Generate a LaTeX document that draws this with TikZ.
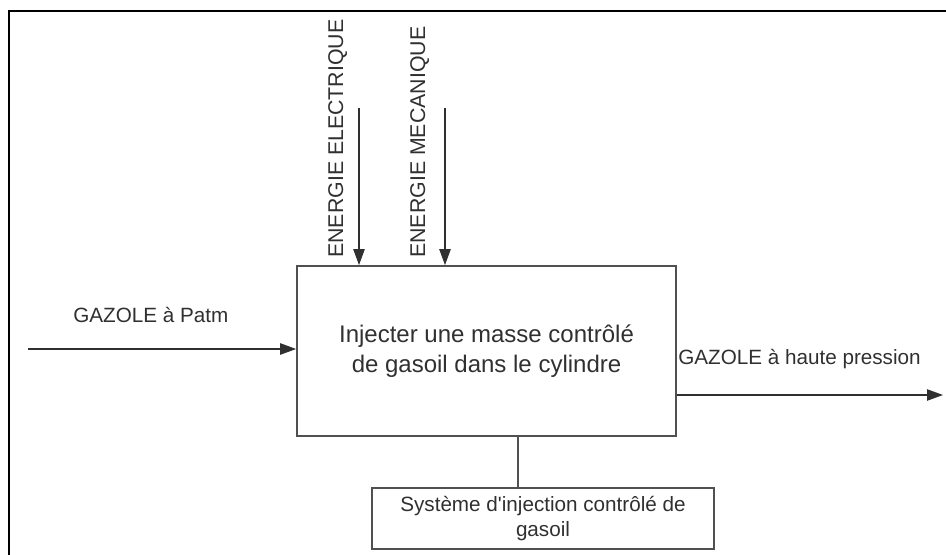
\documentclass[tikz,border=0pt]{standalone}
\usepackage{fontspec}
\newfontfamily\diagfont{Liberation Sans}
\usetikzlibrary{arrows.meta}
\definecolor{inkgray}{HTML}{303030}
\definecolor{boxgray}{HTML}{505050}

\begin{document}
\begin{tikzpicture}[x=0.75pt, y=-0.75pt,
  every node/.style={font=\diagfont\fontsize{15.5}{18.75}\selectfont, text=inkgray},
  fbox/.style={draw=boxgray, line width=1.3pt, align=center, inner sep=0pt},
  flow/.style={draw=inkgray, line width=1pt, -{Triangle[length=12pt, width=8.5pt]}},
  lbl/.style={inner sep=0pt}]
  \useasboundingbox (0,0) rectangle (946,555);

  % 1. frame
  \draw[line width=1.5pt] (9,555) -- (9,11) -- (946,11);

  % 2. boxes
  \node[fbox, minimum width=284.25pt, minimum height=127.5pt,
        font=\diagfont\fontsize{18}{22.5}\selectfont] (fct) at (486.5,351)
    {Injecter une masse contrôlé\\de gasoil dans le cylindre};
  \node[fbox, minimum width=256.5pt, minimum height=45.75pt] (sys) at (543,518.5)
    {Système d'injection contrôlé de\\gasoil};

  % 3. flows
  \coordinate (in)  at (28,349);
  \coordinate (out) at (943,395);
  \coordinate (elec) at (359,108);
  \coordinate (meca) at (445,108);
  \coordinate (mech) at (518,436);

  \draw[flow] (in) -- (in -| fct.west);
  \draw[flow] (out -| fct.east) -- (out);
  \foreach \pt in {elec,meca} {
    \draw[flow] (\pt) -- (\pt |- fct.north);
  }
  \draw[draw=boxgray, line width=1.3pt] (mech) -- (mech |- sys.north);

  % 4. labels
  \node[lbl, anchor=base west] (lin) at (73,323) {GAZOLE à Patm};
  \node[lbl, anchor=base west] (lout) at (678,365) {GAZOLE à haute pression};
  \node[lbl, anchor=base west, rotate=90, font=\diagfont\fontsize{16}{19}\selectfont]
    (lelec) at (343,258) {ENERGIE ELECTRIQUE};
  \node[lbl, anchor=base west, rotate=90, font=\diagfont\fontsize{16}{19}\selectfont]
    (lmeca) at (425,258) {ENERGIE MECANIQUE};
\end{tikzpicture}
\end{document}
